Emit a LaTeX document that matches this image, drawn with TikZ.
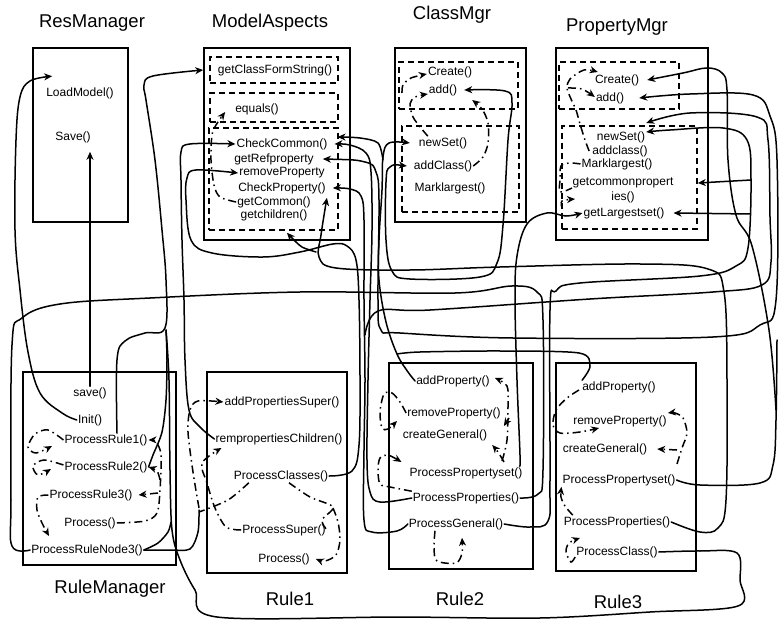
\documentclass[tikz,border=0pt]{standalone}
\usepackage{fontspec}
\setmainfont{Liberation Sans}
\usetikzlibrary{arrows.meta}
\begin{document}
\begin{tikzpicture}[x=1pt,y=-1pt,
  box/.style={draw, line width=1.6pt, inner sep=0pt},
  dbox/.style={draw, line width=1.6pt, dash pattern=on 6pt off 4pt, inner sep=0pt},
  lbl/.style={inner sep=1pt, font=\fontsize{12}{12}\selectfont},
  ttl/.style={inner sep=0pt, anchor=base, font=\fontsize{18.5}{20}\selectfont},
  conn/.style={line width=1.5pt, line cap=round},
  dd/.style={line width=1.5pt, dash pattern=on 8pt off 4pt on 1.5pt off 4pt},
  tip/.style={-{Stealth[length=8pt,width=7pt,inset=2.5pt]}},
  bitip/.style={{Stealth[length=8pt,width=7pt,inset=2.5pt]}-{Stealth[length=8pt,width=7pt,inset=2.5pt]}}]
\useasboundingbox (0,0) rectangle (779,620);
\fill[white] (0,0) rectangle (779,620);

% titles
\node[ttl] (tres) at (92,28) {ResManager};
\node[ttl] (tma) at (270,28) {ModelAspects};
\node[ttl] (tcm) at (452,20) {ClassMgr};
\node[ttl] (tpm) at (617,32) {PropertyMgr};
\node[ttl] (trm) at (110,593) {RuleManager};
\node[ttl] (tr1) at (290,605) {Rule1};
\node[ttl] (tr2) at (460,605) {Rule2};
\node[ttl] (tr3) at (618,608) {Rule3};

% boxes
\node[box, minimum width=95pt, minimum height=174pt] (res) at (80.5,135) {};
\node[box, minimum width=146pt, minimum height=192pt] (ma) at (277,144) {};
\node[dbox, minimum width=128pt, minimum height=26pt] (ma1) at (274,70) {};
\node[dbox, minimum width=128pt, minimum height=29pt] (ma2) at (274,107.5) {};
\node[dbox, minimum width=129pt, minimum height=102pt] (ma3) at (273.5,179) {};
\node[box, minimum width=131pt, minimum height=174pt] (cm) at (460.5,135) {};
\node[dbox, minimum width=119pt, minimum height=47pt] (cm1) at (458.5,85.5) {};
\node[dbox, minimum width=117pt, minimum height=86pt] (cm2) at (460.5,169) {};
\node[box, minimum width=152pt, minimum height=192pt] (pm) at (632,144) {};
\node[dbox, minimum width=120pt, minimum height=47pt] (pm1) at (619,85.5) {};
\node[dbox, minimum width=135pt, minimum height=103pt] (pm2) at (629.5,177.5) {};
\node[box, minimum width=153pt, minimum height=193pt] (rm) at (99.5,468.5) {};
\node[box, minimum width=140pt, minimum height=201pt] (r1) at (277,472.5) {};
\node[box, minimum width=144pt, minimum height=206pt] (r2) at (461,466) {};
\node[box, minimum width=140pt, minimum height=208pt] (r3) at (626,467) {};

% texts
\node[lbl] (lm) at (80,93) {LoadModel()};
\node[lbl] (sav) at (73,137) {Save()};
\node[lbl] (gcfs) at (275,70) {getClassFormString()};
\node[lbl] (eq) at (257,109) {equals()};
\node[lbl] (cc) at (282,144) {CheckCommon()};
\node[lbl] (grp) at (274,159) {getRefproperty};
\node[lbl] (rp) at (282,173) {removeProperty};
\node[lbl] (cp) at (282,188) {CheckProperty()};
\node[lbl] (gco) at (274,202) {getCommon()};
\node[lbl] (gch) at (274,215) {getchildren()};
\node[lbl] (cmc) at (450,72) {Create()};
\node[lbl] (cma) at (443,90) {add()};
\node[lbl] (cmn) at (443,143) {newSet()};
\node[lbl] (cmac) at (443,166) {addClass()};
\node[lbl] (cmm) at (450,188) {Marklargest()};
\node[lbl] (pmc) at (617,80) {Create()};
\node[lbl] (pma) at (610,98) {add()};
\node[lbl] (pmn) at (621,137) {newSet()};
\node[lbl] (pmac) at (620,151) {addclass()};
\node[lbl] (pmm) at (617,164) {Marklargest()};
\node[lbl] (pmg) at (623,183) {getcommonpropert};
\node[lbl] (pmi) at (623,197) {ies()};
\node[lbl] (pml) at (624,213) {getLargestset()};
\node[lbl] (rsv) at (90,393) {save()};
\node[lbl] (rin) at (90,420) {Init()};
\node[lbl] (rp1) at (106,440) {ProcessRule1()};
\node[lbl] (rp2) at (106,467) {ProcessRule2()};
\node[lbl] (rp3) at (91,495) {ProcessRule3()};
\node[lbl] (rpr) at (90,523) {Process()};
\node[lbl] (rpn) at (87,550) {ProcessRuleNode3()};
\node[lbl] (a1) at (282,402) {addPropertiesSuper()};
\node[lbl] (a2) at (279,439) {rempropertiesChildren()};
\node[lbl] (a3) at (281,476) {ProcessClasses()};
\node[lbl] (a4) at (284,530) {ProcessSuper()};
\node[lbl] (a5) at (284,559) {Process()};
\node[lbl] (b1) at (453,381) {addProperty()};
\node[lbl] (b2) at (454,413) {removeProperty()};
\node[lbl] (b3) at (445,435) {createGeneral()};
\node[lbl] (b4) at (466,473) {ProcessPropertyset()};
\node[lbl] (b5) at (466,498) {ProcessProperties()};
\node[lbl] (b6) at (456,524) {ProcessGeneral()};
\node[lbl] (c1) at (619,387) {addProperty()};
\node[lbl] (c2) at (620,421) {removeProperty()};
\node[lbl] (c3) at (605,449) {createGeneral()};
\node[lbl] (c4) at (619,480) {ProcessPropertyset()};
\node[lbl] (c5) at (617,522) {ProcessProperties()};
\node[lbl] (c6) at (617,552) {ProcessClass()};

\coordinate (j4) at (166,330);
\coordinate (k24) at (751,180);
\coordinate (k25) at (750,214);

% solid connectors
\draw[conn,tip] plot[smooth,tension=0.6] coordinates {(rin.west) (62,413) (40,393) (28,352) (20,290) (15,230) (16,140) (20,97) (30,81) ([shift={(7,-10)}]lm.north west)};
\draw[conn,tip,shorten >=8pt] (rsv.north) -- (rsv.north |- sav.south);
\draw[conn] plot[smooth,tension=0.6] coordinates {(rpn.west) (12,546) (11,500) (12,345) (22,318) (60,304) (150,298) (300,292) (455,293) (512,286) (537,292) (543,320) (543,470) (538,494) (b5.east)};
\draw[conn,tip] plot[smooth,tension=0.6] coordinates {([xshift=11pt]rp1.north) (117,360) (125,341) (145,333) (165,328) (166,280) (162,230) (155,160) (146,100) (144,85) (153,76) (ma.west |- gcfs.west)};
\draw[conn] plot[smooth] coordinates {(rp2.east) (153,455) (162,432) (166,400) (167,360) (j4)};
\draw[conn] plot[smooth,tension=0.55] coordinates {(c6.east) (700,551) (737,553) (740,580) (738,606) (650,612) (540,618) (400,617) (217,617) (195,590) (180,560) (172,530) (170,470) (169,380) (j4)};
\draw[conn] plot[smooth] coordinates {(rpn.east) (158,543) (168,532) (171,522)};
\draw[conn] plot[smooth] coordinates {(rpn.east) (170,550) (190,549) (198,532) (199,510)};
\draw[conn,tip] plot[smooth,tension=0.6] coordinates {(a2.west) (200,427) (189,410) (185,360) (184,300) (182,240) (181,180) (181,152) (190,144) (cc.west)};
\draw[conn,tip] plot[smooth,tension=0.6] coordinates {(a3.east) (352,471) (359,445) (360,380) (359,300) (356,260) (347,246) (333,244) (300,252) (263,257) (212,253) (191,240) (186,200) (187,178) (196,170) (rp.west)};
\draw[conn,tip] plot[smooth,tension=0.6] coordinates {(c5.east) (700,532) (718,528) (726,500) (727,380) (724,292) (708,269) (640,264) (500,267) (410,270) (336,268) (319,257) (321,235) ([yshift=-3pt]cp.south east)};
\draw[conn,tip] plot[smooth] coordinates {(316,252) (302,247) (292,238) ([shift={(13,11)}]gch.south)};
\draw[conn,tip] plot[smooth,tension=0.6] coordinates {(b1.west) (408,372) (397,354) (386,322) (379,280) (379,240) (382,190) (383,157) (389,143) ([xshift=-8pt]cmn.west)};
\draw[conn,tip] plot[smooth] coordinates {(383,160) (378,143) (360,138) ([shift={(9,-7)}]cc.east)};
\draw[conn] plot[smooth] coordinates {([xshift=1pt]c1.north west) (590,366) (579,353) (500,351) (420,352) (397,354)};
\draw[conn,bitip] plot[smooth,tension=0.6] coordinates {([xshift=-6pt]cmac.west) (390,167) (386,182) (386,240) (392,271) (410,279) (480,277) (497,263) (503,225) (508,140) (512,103) (505,91) ([xshift=6pt]cma.east)};
\draw[conn,tip] plot[smooth,tension=0.6] coordinates {(b5.west) (380,502) (370,492) (367,460) (368,380) (370,300) (372,230) (371,172) (366,153) (350,145) ([xshift=6pt]cc.east)};
\draw[conn,bitip] plot[smooth,tension=0.6] coordinates {([xshift=8pt]grp.east) (365,162) (376,172) (379,200) (378,300) (381,330) (400,333) (513,338) (713,337) (760,325) (776,300) (777,160) (770,116) (753,95) (690,94) ([xshift=14pt]pma.east)};
\draw[conn,tip] plot[smooth,tension=0.6] coordinates {(b6.west) (397,531) (372,532) (364,520) (364,450) (365,380) (364,300) (364,220) (361,196) (350,189) ([xshift=6pt]cp.east)};
\draw[conn,tip] plot[smooth,tension=0.6] coordinates {(365,335) (378,311) (430,310) (590,299) (713,292) (762,285) (771,262) (770,217) (768,140) (757,117) (690,113) ([shift={(0,-14)}]pmn.east)};
\draw[conn,tip] plot[smooth,tension=0.6] coordinates {(b6.east) (530,527) (548,521) (550,480) (550,310) (556,291) (580,283) (700,276) (736,266) (748,248) (751,180) (747,140) (723,128) (670,130) ([shift={(0,-5)}]pmn.east)};
\draw[conn,tip] plot[smooth,tension=0.6] coordinates {([xshift=-4pt]b4.north east) (520,455) (517,380) (515,300) (517,256) (527,224) (547,213) (566,216) (pml.west)};
\draw[conn] plot[smooth,tension=0.6] coordinates {(c4.east) (700,485) (760,483) (773,465) (776,420) (777,340)};
\draw[conn,tip] plot[smooth,tension=0.6] coordinates {(776,410) (769,330) (752,246) (736,215) (728,160) (727,90) (722,73) (707,68) (683,73) ([xshift=7pt]pmc.east)};
\draw[conn,tip] (k24) -- (pm2.east |- pmg.east);
\draw[conn,tip] (k25) -- ([xshift=8pt]pml.east);

% dash-dot connectors
\draw[dd,tip] plot[smooth] coordinates {(rp1.west) (48,430) (35,434) (28,447) (36,453) (52,446)};
\draw[dd,tip] plot[smooth] coordinates {([yshift=2pt]rp2.west) (44,460) (33,466) (38,475) (51,469)};
\draw[dd,tip] plot[smooth] coordinates {(rp3.west) (38,497) (37,510) (42,523) (49,536)};
\draw[dd,tip] plot[smooth] coordinates {(rpr.east) (145,521) (157,513) (160,490) (161,455) (156,442) (rp1.east)};
\draw[dd,tip] plot[smooth] coordinates {(160,480) (157,471) (rp2.east)};
\draw[dd,tip] (158,493) -- ([xshift=5pt]rp3.east);
\draw[dd,tip] plot[smooth] coordinates {(199,508) (193,472) (188,432) (190,410) (198,401) (a1.west)};
\draw[dd,tip] plot[smooth] coordinates {(a4.west) (226,527) (215,508) (207,483) (202,463) ([shift={(7,9)}]a2.west)};
\draw[dd] plot[smooth] coordinates {([xshift=16pt]a3.south west) (228,500) (199,512)};
\draw[dd] plot[smooth] coordinates {([xshift=8pt]a3.south) (310,497) (333,507) (322,520) (a4.east)};
\draw[dd,tip] plot[smooth] coordinates {(333,508) (338,522) (340,540) (336,555) (325,561) ([xshift=5pt]a5.east)};
\draw[dd,tip] plot[smooth] coordinates {(502,461) (507,440) (508,405) (507,386) ([xshift=4pt,yshift=3pt]b1.east)};
\draw[dd,tip] (509,418) -- ([shift={(2,13)}]b2.east);
\draw[dd,tip] plot[smooth] coordinates {(504,462) (498,452) ([shift={(4,10)}]b3.east)};
\draw[dd,tip] plot[smooth] coordinates {(b2.west) (400,402) (392,393) (384,394) (380,412) (382,428) (388,429) (397,421)};
\draw[dd,tip] plot[smooth] coordinates {(b5.north west) (390,487) (380,484) (378,470) (380,458) (388,455) ([shift={(-7,-11)}]b4.west)};
\draw[dd,tip] plot[smooth] coordinates {([xshift=-21pt]b6.south) (434,548) (437,561) (456,563) (462,553) ([shift={(6,7)}]b6.south)};
\draw[dd,tip] plot[smooth] coordinates {(579,390) (567,398) (556,410) (553,425) (560,433) (580,432) ([shift={(27,7)}]c2.west)};
\draw[dd,tip] plot[smooth] coordinates {(677,464) (682,448) (687,433) (683,418) (675,413) ([yshift=8pt]c2.east)};
\draw[dd,tip] (677,450) -- ([xshift=9pt]c3.east);
\draw[dd,tip] plot[smooth] coordinates {([xshift=10pt]c5.north west) (565,506) (561,497) (c4.south west)};
\draw[dd,tip] plot[smooth] coordinates {([yshift=-5pt]c6.west) (571,562) (566,552) (569,543) (580,538)};
\draw[dd,tip] plot[smooth] coordinates {([xshift=10pt]cmn.north west) (421,128) (413,117) (410,104) (415,97) ([yshift=-4pt]cma.west)};
\draw[dd,tip] plot[smooth] coordinates {(402,93) (403,85) (411,78) ([yshift=-2pt]cmc.west)};
\draw[dd,tip] plot[smooth] coordinates {(cmac.east) (483,157) (488,143) (488,123) (482,109) ([shift={(14,10)}]cma.east)};
\draw[dd,tip] plot[smooth] coordinates {([xshift=-2pt]pmac.west) (585,140) (580,124) (576,110) (571,99) (567,88) (570,79) (584,70) ([shift={(4,-8)}]pmc.west)};
\draw[dd,tip] plot[smooth] coordinates {(568,88) (582,89) ([yshift=1pt]pma.west)};
\draw[dd] plot[smooth] coordinates {(pmm.west) (570,163) (561,166) (560,180) (560,192) (572,188)};
\draw[dd,tip] plot[smooth] coordinates {(562,208) (562,201) (575,199)};
\draw[dd,tip] plot[smooth] coordinates {(gco.west) (220,197) (214,185) (211,160) (212,135) (216,125) ([shift={(-9,3)}]eq.west)};
\end{tikzpicture}
\end{document}
